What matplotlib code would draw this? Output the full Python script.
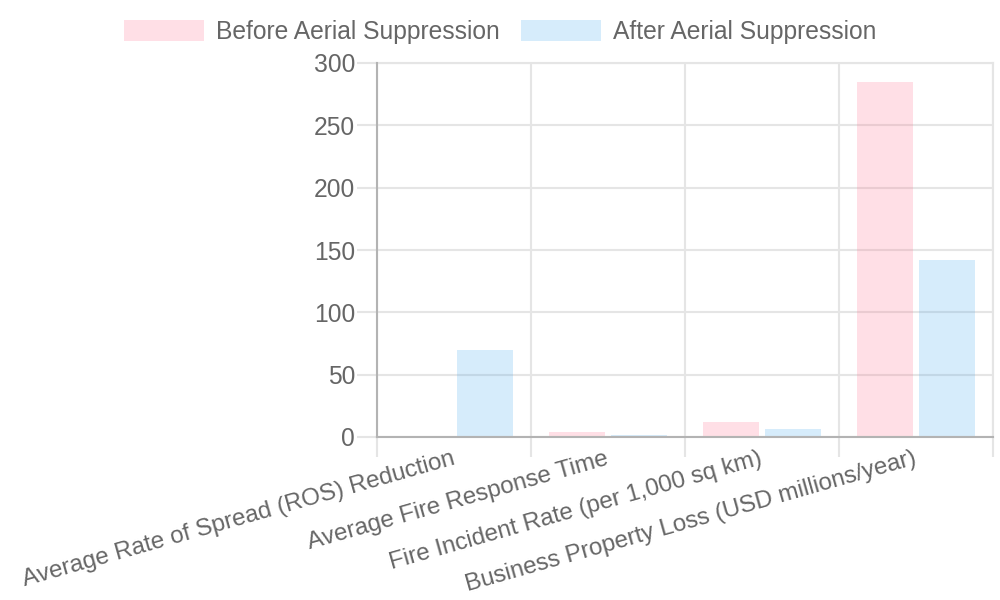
import matplotlib
matplotlib.use("Agg")
import matplotlib.pyplot as plt
from matplotlib.patches import Patch
import numpy as np

categories = [
    "Average Rate of Spread (ROS) Reduction",
    "Average Fire Response Time",
    "Fire Incident Rate (per 1,000 sq km)",
    "Business Property Loss (USD millions/year)",
]
series_names = ["Before Aerial Suppression", "After Aerial Suppression"]
before_values = [0, 4.2, 12, 285]
after_values = [70, 1.5, 6.7, 142]
y_ticks = [0, 50, 100, 150, 200, 250, 300]

plt.rcParams["font.family"] = ["Liberation Sans", "DejaVu Sans"]
TEXT = "#666666"
GRID = "#e5e5e5"
AXIS = "#b3b3b3"
FS = 17.7

fig = plt.figure(figsize=(10, 6), dpi=100)
ax = fig.add_axes([0.377, 1 - 437 / 600, 0.993 - 0.377, (437 - 63) / 600])

x = np.arange(len(categories))
bw = 0.36
pink = (255 / 255, 99 / 255, 132 / 255, 0.2)
blue = (54 / 255, 162 / 255, 235 / 255, 0.2)
ax.bar(x - 0.2, before_values, width=bw, color=pink, zorder=3, label=series_names[0])
ax.bar(x + 0.2, after_values, width=bw, color=blue, zorder=3, label=series_names[1])

ax.set_xlim(-0.5, len(categories) - 0.5)
ax.set_ylim(0, 300)
ax.set_yticks(y_ticks)
ax.set_yticklabels([str(v) for v in y_ticks], fontsize=FS, color=TEXT)
ax.tick_params(axis="y", length=14.4, width=1.5, color=GRID, pad=1.5)
ax.yaxis.grid(True, color=GRID, linewidth=1.5, zorder=0)

ax.set_xticks(x)
ax.set_xticklabels(categories, fontsize=17.4, color=TEXT, rotation=15.8,
                   ha="right", va="center", rotation_mode="anchor")
ax.tick_params(axis="x", which="major", length=0, pad=15.5)
ax.set_xticks(np.arange(len(categories) + 1) - 0.5, minor=True)
ax.tick_params(axis="x", which="minor", length=14.4, width=1.5, color=GRID)
ax.xaxis.grid(True, which="minor", color=GRID, linewidth=1.5, zorder=0)

for s in ["top", "right"]:
    ax.spines[s].set_color(GRID)
    ax.spines[s].set_linewidth(1.5)
for s in ["left", "bottom"]:
    ax.spines[s].set_color(AXIS)
    ax.spines[s].set_linewidth(1.5)
    ax.spines[s].set_zorder(4)

handles = [Patch(facecolor=pink, edgecolor="none"), Patch(facecolor=blue, edgecolor="none")]
fig.legend(handles, series_names, loc="center", bbox_to_anchor=(0.5, 1 - 32 / 600),
           ncol=2, frameon=False, fontsize=FS, labelcolor=TEXT,
           handlelength=3.25, handleheight=0.9, handletextpad=0.49, columnspacing=0.85)

fig.savefig("out.png", dpi=100)
